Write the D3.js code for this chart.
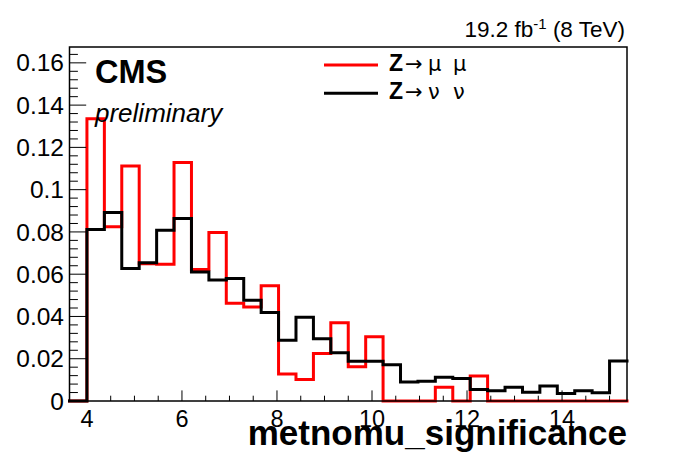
<!DOCTYPE html>
<html>
<head>
<meta charset="utf-8">
<script src="https://cdn.jsdelivr.net/npm/d3@7/dist/d3.min.js"></script>
<style>
html,body{margin:0;padding:0;background:#fff;}
svg{display:block;font-family:"Liberation Sans",Arial,Helvetica,sans-serif;}
</style>
</head>
<body>
<svg id="chart" width="696" height="472"></svg>
<script>
// ---- data ----
const binEdges = [3.633, 4.000, 4.367, 4.733, 5.100, 5.467, 5.833, 6.200, 6.567, 6.933, 7.300,
  7.667, 8.033, 8.400, 8.767, 9.133, 9.500, 9.867, 10.233, 10.600, 10.967, 11.333, 11.700,
  12.067, 12.433, 12.800, 13.167, 13.533, 13.900, 14.267, 14.633, 15.000, 15.367];
const zmumu = [0, 0.1336, 0.0824, 0.1112, 0.0650, 0.0647, 0.1128, 0.0622, 0.0797, 0.0462, 0.0445,
  0.0545, 0.0128, 0.0102, 0.0225, 0.0370, 0.0162, 0.0304, 0, 0, 0, 0.0065, 0, 0.0118,
  0, 0, 0, 0, 0, 0, 0, 0];
const znunu = [0, 0.0811, 0.0892, 0.0627, 0.0654, 0.0808, 0.0863, 0.0610, 0.0572, 0.0580, 0.0477,
  0.0419, 0.0288, 0.0396, 0.0295, 0.0228, 0.0188, 0.0188, 0.0172, 0.0090, 0.0093, 0.0112, 0.0107,
  0.0055, 0.0049, 0.0065, 0.0041, 0.0071, 0.0036, 0.0049, 0.0039, 0.0189];
const xTickValues = [4, 6, 8, 10, 12, 14];
const xTickLabels = ["4", "6", "8", "10", "12", "14"];
const yTickValues = [0, 0.02, 0.04, 0.06, 0.08, 0.1, 0.12, 0.14, 0.16];
const yTickLabels = ["0", "0.02", "0.04", "0.06", "0.08", "0.1", "0.12", "0.14", "0.16"];
const seriesParts = [["Z", "\u2192", "\u03bc", "\u03bc"], ["Z", "\u2192", "\u03bd", "\u03bd"]];
const seriesColors = ["#ff0000", "#000000"];
const xTitle = "metnomu_significance";

// ---- layout ----
const L = 69.5, R = 627, T = 47, B = 401;
const svg = d3.select("#chart");
const x = d3.scaleLinear().domain([binEdges[0], binEdges[binEdges.length - 1]]).range([L, R]);
const y = d3.scaleLinear().domain([0, 0.1675]).range([B, T]);

// histograms
function histPoints(vals) {
  const pts = [];
  vals.forEach((v, i) => { pts.push([binEdges[i], v]); pts.push([binEdges[i + 1], v]); });
  return pts;
}
const line = d3.line().x(d => x(d[0])).y(d => y(d[1]));
[zmumu, znunu].forEach((vals, k) => {
  svg.append("path").attr("d", line(histPoints(vals)))
    .attr("fill", "none").attr("stroke", seriesColors[k]).attr("stroke-width", 3)
    .attr("stroke-linejoin", "miter").attr("stroke-linecap", "square");
});

// frame
svg.append("rect").attr("x", L).attr("y", T).attr("width", R - L).attr("height", B - T)
  .attr("fill", "none").attr("stroke", "#000").attr("stroke-width", 1.5);

// x axis ticks
const xMinor = d3.range(8, 31).map(d => d / 2).filter(d => d >= x.domain()[0] && d <= x.domain()[1]);
const gx = svg.append("g");
xMinor.forEach(v => {
  const major = xTickValues.includes(v);
  gx.append("line").attr("x1", x(v)).attr("x2", x(v)).attr("y1", B).attr("y2", B - (major ? 10.6 : 5.3))
    .attr("stroke", "#000").attr("stroke-width", 1);
});
xTickValues.forEach((v, i) => {
  gx.append("text").attr("x", x(v)).attr("y", 427).attr("text-anchor", "middle")
    .attr("font-size", 23.5).text(xTickLabels[i]);
});

// y axis ticks
const gy = svg.append("g");
d3.range(0, 42).map(d => d * 0.004).filter(v => v <= 0.1675).forEach((v, i) => {
  const major = (i % 5) === 0;
  gy.append("line").attr("x1", L).attr("x2", L + (major ? 16.7 : 8.4)).attr("y1", y(v)).attr("y2", y(v))
    .attr("stroke", "#000").attr("stroke-width", 1);
});
yTickValues.forEach((v, i) => {
  gy.append("text").attr("x", 64).attr("y", y(v) + 8.6).attr("text-anchor", "end")
    .attr("font-size", 24.5).text(yTickLabels[i]);
});

// x title
svg.append("text").attr("x", 627).attr("y", 445).attr("text-anchor", "end")
  .attr("font-size", 35).attr("font-weight", "bold").text(xTitle);

// lumi
const lumi = svg.append("text").attr("x", 625).attr("y", 37).attr("text-anchor", "end").attr("font-size", 22.5);
lumi.append("tspan").text("19.2 fb");
lumi.append("tspan").attr("font-size", 15).attr("dy", -8).text("-1");
lumi.append("tspan").attr("dy", 8).text(" (8 TeV)");

// CMS
svg.append("text").attr("x", 95).attr("y", 83).attr("font-size", 32.5).attr("font-weight", "bold").text("CMS");
svg.append("text").attr("x", 95).attr("y", 122).attr("font-size", 26).attr("font-style", "italic").text("preliminary");

// legend
const legY = [65, 93.3];
const partX = [389, 405, 428, 453];
seriesParts.forEach((parts, k) => {
  svg.append("line").attr("x1", 324).attr("x2", 378).attr("y1", legY[k]).attr("y2", legY[k])
    .attr("stroke", seriesColors[k]).attr("stroke-width", 3);
  const t = svg.append("text").attr("y", legY[k] + 6).attr("font-size", 23);
  t.append("tspan").attr("x", partX[0]).attr("font-weight", "bold").text(parts[0]);
  t.append("tspan").attr("x", partX[1]).attr("font-family", "DejaVu Sans").attr("font-size", 21).text(parts[1]);
  t.append("tspan").attr("x", partX[2]).attr("font-family", "DejaVu Sans").attr("font-size", 21).text(parts[2]);
  t.append("tspan").attr("x", partX[3]).attr("font-family", "DejaVu Sans").attr("font-size", 21).text(parts[3]);
});
</script>
</body>
</html>
